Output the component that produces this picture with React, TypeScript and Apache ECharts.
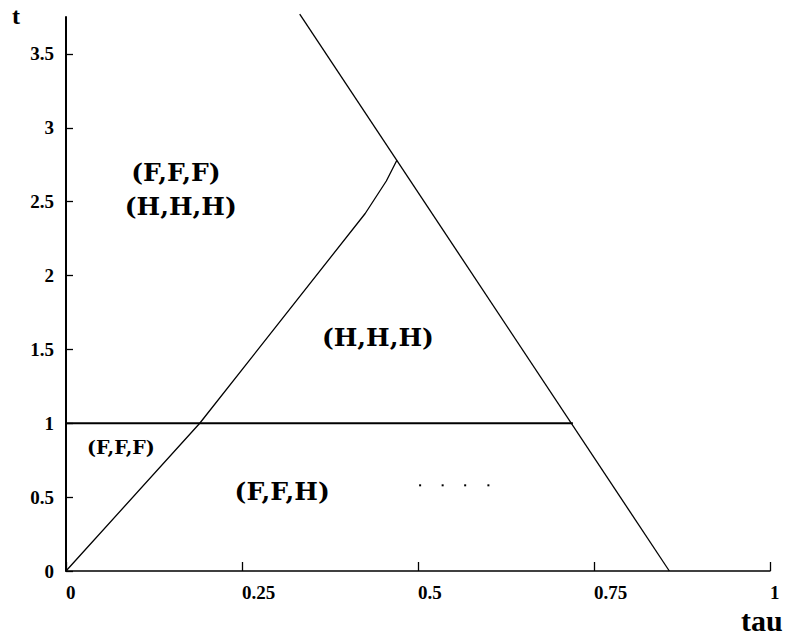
import React, { useEffect, useRef } from "react";
import * as echarts from "echarts";

// Axis ticks
const xTickValues = [0, 0.25, 0.5, 0.75, 1];
const yTickValues = [0, 0.5, 1, 1.5, 2, 2.5, 3, 3.5];

// Boundary curves [tau, t]
const rightBoundary = [
  [0.332, 3.77],
  [0.857, 0],
];
const leftBoundary = [
  [0, 0],
  [0.19, 1.0],
  [0.425, 2.42],
  [0.455, 2.64],
  [0.47, 2.78],
];
const horizontalBoundary = [
  [0, 1],
  [0.72, 1],
];

// Region labels
const regionNames = ["(F,F,F)", "(H,H,H)", "(H,H,H)", "(F,F,H)"];
const regionTau = [0.156, 0.163, 0.443, 0.307];
const regionT = [2.7, 2.47, 1.58, 0.54];

const smallRegionNames = ["(F,F,F)"];
const smallRegionTau = [0.078];
const smallRegionT = [0.84];

// Dotted marks
const dotTau = [0.503, 0.535, 0.567, 0.6];
const dotT = [0.58, 0.58, 0.58, 0.58];

const SERIF = "'Liberation Serif', 'Times New Roman', serif";
const LABEL_SERIF = "'DejaVu Serif', 'Liberation Serif', serif";

export default function App() {
  const ref = useRef<HTMLDivElement>(null);

  useEffect(() => {
    if (!ref.current) return;
    const chart = echarts.init(ref.current, undefined, { renderer: "svg" });

    const labelStyle = (size: number) => ({
      show: true,
      position: "inside",
      formatter: (p: any) => p.name,
      color: "#000",
      opacity: 1,
      textBorderWidth: 0,
      fontFamily: LABEL_SERIF,
      fontWeight: "bold",
      fontSize: size,
    });

    const option: any = {
      animation: false,
      backgroundColor: "#ffffff",
      grid: { left: 66, right: 19, top: 17, bottom: 64 },
      xAxis: {
        type: "value",
        min: 0,
        max: 1,
        interval: 0.25,
        splitLine: { show: false },
        axisLine: { show: true, lineStyle: { color: "#000", width: 1.5 } },
        axisTick: {
          show: true,
          inside: true,
          length: 9,
          lineStyle: { color: "#000", width: 1.3 },
        },
        axisLabel: {
          show: true,
          align: "left",
          margin: 12,
          color: "#000",
          fontFamily: SERIF,
          fontWeight: "bold",
          fontSize: 19,
          formatter: (v: number) => String(v),
          customValues: xTickValues,
        },
      },
      yAxis: {
        type: "value",
        min: 0,
        max: 3.75,
        splitLine: { show: false },
        axisLine: { show: true, lineStyle: { color: "#000", width: 2 } },
        axisTick: {
          show: true,
          inside: true,
          length: 7,
          customValues: yTickValues,
          lineStyle: { color: "#000", width: 1.3 },
        },
        axisLabel: {
          show: true,
          margin: 12,
          color: "#000",
          fontFamily: SERIF,
          fontWeight: "bold",
          fontSize: 19,
          padding: [8, 0, 0, 0],
          customValues: yTickValues,
          formatter: (v: number) => String(v),
        },
      },
      graphic: [
        {
          type: "text",
          left: 12,
          top: 4,
          style: {
            text: "t",
            font: `bold 24px ${SERIF}`,
            fill: "#000",
          },
        },
        {
          type: "text",
          left: 741,
          top: 605,
          style: {
            text: "tau",
            font: `bold 30px ${SERIF}`,
            fill: "#000",
          },
        },
      ],
      series: [
        {
          type: "line",
          data: rightBoundary,
          symbol: "none",
          clip: false,
          lineStyle: { color: "#000", width: 1.3 },
        },
        {
          type: "line",
          data: leftBoundary,
          symbol: "none",
          clip: false,
          lineStyle: { color: "#000", width: 1.3 },
        },
        {
          type: "line",
          data: horizontalBoundary,
          symbol: "none",
          clip: false,
          lineStyle: { color: "#000", width: 2.2 },
        },
        {
          type: "scatter",
          symbolSize: 0,
          itemStyle: { opacity: 1 },
          data: regionNames.map((n, i) => ({ name: n, value: [regionTau[i], regionT[i]] })),
          label: labelStyle(25),
        },
        {
          type: "scatter",
          symbolSize: 0,
          itemStyle: { opacity: 1 },
          data: smallRegionNames.map((n, i) => ({
            name: n,
            value: [smallRegionTau[i], smallRegionT[i]],
          })),
          label: labelStyle(19),
        },
        {
          type: "scatter",
          symbol: "rect",
          symbolSize: 2,
          itemStyle: { color: "#000", opacity: 1 },
          data: dotTau.map((x, i) => [x, dotT[i]]),
        },
      ],
    };

    chart.setOption(option);
    return () => chart.dispose();
  }, []);

  return (
    <div
      ref={ref}
      style={{ position: "absolute", left: 0, top: 0, width: 789, height: 635, background: "#fff" }}
    />
  );
}
